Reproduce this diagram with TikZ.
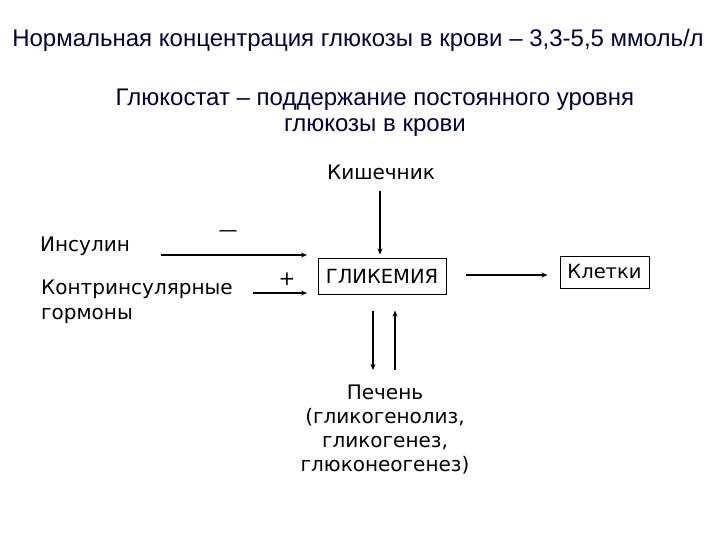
\documentclass[tikz,border=0pt]{standalone}
\usepackage{fontspec}
\setmainfont{DejaVu Sans}
\newfontfamily\headfont{Liberation Sans}
\usetikzlibrary{arrows.meta,positioning}
\definecolor{headblue}{RGB}{0,0,60}
\tikzset{
  head/.style={
    font=\headfont\fontsize{24}{26}\selectfont,
    text=headblue,
    align=center,
    inner sep=0pt
  },
  lbl/.style={
    font=\fontsize{20}{24.5}\selectfont,
    align=left,
    inner sep=0pt
  },
  box/.style={
    draw,
    line width=1pt,
    font=\fontsize{19.5}{24}\selectfont,
    inner sep=0pt
  },
  arr/.style={
    -{Stealth[length=6pt,width=5pt]},
    line width=1.7pt
  },
}

\begin{document}
\begin{tikzpicture}[x=1pt,y=-1pt]
  \useasboundingbox (0,0) rectangle (720,540);
  % headings
  \node[head] (norm) at (358,40) {Нормальная концентрация глюкозы в крови – 3,3-5,5 ммоль/л};
  \node[head] (stat) at (375,113) {Глюкостат – поддержание постоянного уровня\\глюкозы в крови};
  % boxes
  \node[box,minimum width=128pt,minimum height=36pt] (glyc) at (382,276) {ГЛИКЕМИЯ};
  \node[box,minimum width=89pt,minimum height=32pt] (cells) at (604.5,272) {Клетки};
  % labels
  \node[lbl] (gut) at (381,172) {Кишечник};
  \node[lbl,anchor=west] (insulin) at (40,246) {Инсулин};
  \node[lbl,anchor=north west] (contra) at (41,280) {Контринсулярные\\гормоны};
  \node[lbl,align=center,anchor=north,font=\fontsize{20}{24}\selectfont] (liver) at (385,385) {Печень\\(гликогенолиз,\\гликогенез,\\глюконеогенез)};
  \coordinate (insIn) at (307,255);
  \coordinate (conIn) at (307,293);
  % arrows
  \draw[arr,shorten <=11pt,shorten >=3pt] (gut.south -| 380,0) -- (380,0 |- glyc.north);
  \draw[arr,shorten <=19pt,shorten >=12pt] (glyc.east |- 0,275) -- (cells.west |- 0,275);
  \draw[arr,shorten <=31pt] (insulin.east |- insIn) -- (insIn);
  \draw[arr] ([xshift=-54pt]conIn) -- (conIn);
  \node[font=\fontsize{19}{20}\selectfont] (minus) at (228,234) {---};
  \node[font=\fontsize{20}{20}\selectfont] (plus) at (287,279) {+};
  \draw[arr,shorten <=16pt,shorten >=15pt] (glyc.south -| 373,0) -- (liver.north -| 373,0);
  \draw[arr,shorten <=15pt,shorten >=16pt] (liver.north -| 395,0) -- (glyc.south -| 395,0);
\end{tikzpicture}
\end{document}
